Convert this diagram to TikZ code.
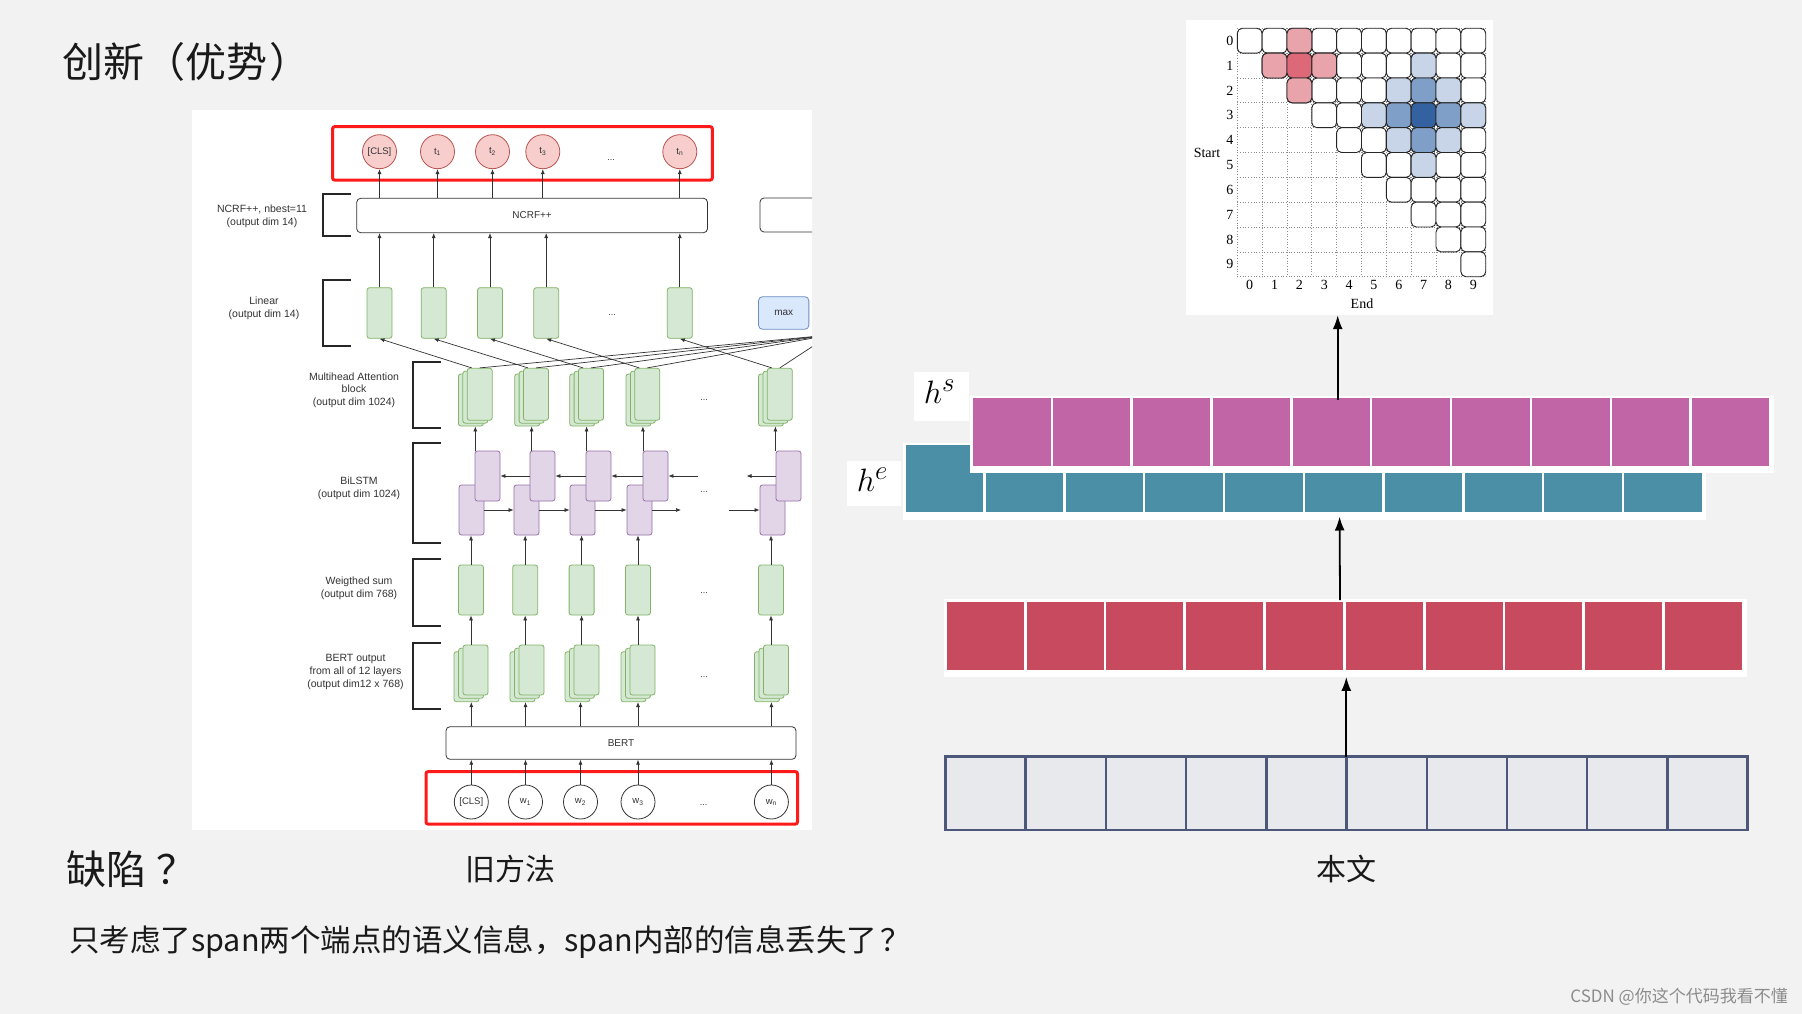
\documentclass[tikz,border=0pt]{standalone}
\usepackage{fontspec}
\setmainfont{Liberation Sans}
\newfontfamily\cjk{Noto Sans CJK SC}
\newfontfamily\serif{Liberation Serif}
\usetikzlibrary{arrows.meta}
\definecolor{bg}{HTML}{F2F2F2}
\definecolor{txt}{HTML}{333333}
\definecolor{gfill}{HTML}{D5E8D4}
\definecolor{gline}{HTML}{82B366}
\definecolor{pfill}{HTML}{E1D5E7}
\definecolor{pline}{HTML}{9673A6}
\definecolor{rfill}{HTML}{F8CECC}
\definecolor{rline}{HTML}{B85450}
\definecolor{bfill}{HTML}{DAE8FC}
\definecolor{bline}{HTML}{6C8EBF}
\definecolor{redframe}{HTML}{FF1A1A}
\definecolor{hsfill}{HTML}{C165A6}
\definecolor{hefill}{HTML}{4A8FA5}
\definecolor{encfill}{HTML}{C84A5E}
\definecolor{infill}{HTML}{E8E9EC}
\definecolor{inline}{HTML}{4D5779}
\definecolor{lr}{HTML}{E8A3AB}
\definecolor{mr}{HTML}{DC6878}
\definecolor{lb}{HTML}{C8D5E8}
\definecolor{mb}{HTML}{809FC8}
\definecolor{db}{HTML}{3462A0}
\tikzset{
  lbl/.style={font=\fontsize{10.5}{12.6}\selectfont, text=txt, align=center, inner sep=0},
  gbox/.style={draw=gline, fill=gfill, rounded corners=2.5pt, minimum width=25pt, minimum height=50pt, inner sep=0, line width=0.8pt},
  pbox/.style={draw=pline, fill=pfill, rounded corners=2.5pt, minimum width=25pt, minimum height=50pt, inner sep=0, line width=0.8pt},
  tokp/.style={circle, draw=rline, fill=rfill, minimum size=34pt, inner sep=0, line width=0.8pt, font=\fontsize{9.5}{11}\selectfont, text=txt},
  tokw/.style={circle, draw=txt, fill=white, minimum size=34pt, inner sep=0, line width=0.8pt, font=\fontsize{9.5}{11}\selectfont, text=txt},
  wbox/.style={draw=txt, fill=white, rounded corners=4pt, inner sep=0, line width=0.8pt, font=\fontsize{10}{12}\selectfont, text=txt},
  arr/.style={-{Latex[length=5pt,width=4pt]}, line width=0.7pt, draw=txt},
  plain/.style={line width=0.7pt, draw=txt},
  brk/.style={line width=1.8pt, draw=black!85},
  redbx/.style={draw=redframe, line width=3pt, rounded corners=2pt},
  ell/.style={font=\fontsize{9}{10}\selectfont, text=txt, inner sep=0},
  cellst/.style={draw=black!85, line width=0.9pt, rounded corners=5pt},
  glab/.style={font=\serif\fontsize{14}{16}\selectfont, inner sep=0},
  bigarr/.style={-{Latex[length=14pt,width=10pt]}, line width=1.8pt, draw=black},
  cjktext/.style={font=\cjk\fontsize{#1}{#1}\selectfont, inner sep=0, text=black!90}
}
\begin{document}
\begin{tikzpicture}[x=1pt,y=-1pt]
\useasboundingbox (0,0) rectangle (1802,1014);
\fill[bg] (0,0) rectangle (1802,1014);

% ---------- titles and texts ----------
\node[cjktext=41, anchor=west] (title) at (62,62) {创新（优势\hspace{2pt}）};
\node[cjktext=40, anchor=west] (defect) at (66,869) {缺陷\hspace{10pt}？};
\node[cjktext=30] (oldm) at (510,869) {旧方法};
\node[cjktext=30] (ours) at (1346,869) {本文};
\node[cjktext=30.5, anchor=west] (sent) at (69,942) {只考虑了span两个端点的语义信息，span内部的信息丢失了\hspace{3pt}？};
\node[font=\cjk\fontsize{17}{17}\selectfont, text=black!45, anchor=east, inner sep=0] (wm) at (1788,997) {CSDN @你这个代码我看不懂};

% ---------- left diagram ----------
\fill[white] (192,110) rectangle (812,830);
\begin{scope}
\clip (192,110) rectangle (812,830);
% red frames
\draw[redbx] (332.6,126.7) rectangle (712.3,180);
\draw[redbx] (426,771.7) rectangle (797.5,824);
% top output circles
\foreach \n/\x/\t in {1/379.5/{[CLS]},2/437.5/{t\textsubscript{1}},3/492.5/{t\textsubscript{2}},4/542.8/{t\textsubscript{3}},5/679.8/{t\textsubscript{n}}}
  \node[tokp] (c\n) at (\x,151.7) {\t};
\node[ell] (e1) at (611,160) {...};
% NCRF
\node[wbox, minimum width=350.8pt, minimum height=34.4pt] (ncrf) at (532.1,215.5) {NCRF++};
\node[wbox, minimum width=80pt, minimum height=34pt] (ncrf2) at (800,215) {};
% Linear
\foreach \n/\x in {1/379.5,2/433.7,3/490,4/546.2,5/679.8}
  \node[gbox, minimum height=50.6pt] (lin\n) at (\x,313) {};
\node[ell] (e2) at (612,315) {...};
\node[draw=bline, fill=bfill, rounded corners=4pt, minimum width=50.3pt, minimum height=32.6pt, inner sep=0, line width=0.8pt, font=\fontsize{10}{12}\selectfont, text=txt] (mx) at (783.7,313) {max};
\foreach \n in {1,...,5}{
  \draw[arr] (lin\n.north) -- (lin\n.north |- ncrf.south);
  \draw[arr] (c\n.south |- ncrf.north) -- (c\n.south);
}
% Multihead attention
\foreach \n/\bl in {1/458.4,2/514.7,3/569.7,4/626,5/758.5}{
  \node[gbox, minimum height=52pt] (mhb\n) at (\bl+12.5,400) {};
  \node[gbox, minimum height=52pt] (mhm\n) at (\bl+16.9,397.2) {};
  \node[gbox, minimum height=52pt] (mhf\n) at (\bl+21.3,394.3) {};
}
\node[ell] (e3) at (704,400) {...};
\coordinate (maxpt) at (830,335);
\foreach \n in {1,...,5}{
  \draw[arr] ([xshift=-8pt]mhf\n.north) -- (lin\n.south);
  \draw[plain] (mhf\n.north) -- (maxpt);
}
% BiLSTM
\foreach \n/\x in {1/471.5,2/526.5,3/582.5,4/639.5,5/772.5}{
  \node[pbox] (lo\n) at (\x,510) {};
  \node[pbox] (up\n) at (\x+16,476) {};
}
\node[ell] (e4) at (704,492) {...};
\foreach \a/\b in {1/2,2/3,3/4}{
  \draw[arr] (up\b.west) -- (up\a.east);
  \draw[arr] (lo\a.east) -- (lo\b.west);
}
\coordinate (bk4) at (698,476);
\coordinate (bk5) at (746.5,476);
\coordinate (fw4) at (681,510);
\coordinate (fw5) at (729,510);
\draw[arr] (bk4) -- (up4.east);
\draw[arr] (up5.west) -- (bk5);
\draw[arr] (lo4.east) -- (fw4);
\draw[arr] (fw5) -- (lo5.west);
\foreach \n in {1,...,5}
  \draw[arr] (mhm\n |- up\n.north) -- (mhm\n |- mhb\n.south);
% Weighted sum
\foreach \n/\x in {1/471,2/525.2,3/581.6,4/638,5/771}
  \node[gbox] (ws\n) at (\x,590) {};
\node[ell] (e5) at (704,593) {...};
\foreach \n in {1,...,5}
  \draw[arr] (ws\n.north) -- (ws\n.north |- lo\n.south);
% BERT output
\foreach \n/\bl in {1/454,2/510,3/565,4/621,5/754.5}{
  \node[gbox] (bob\n) at (\bl+12.5,676.7) {};
  \node[gbox] (bom\n) at (\bl+17,673.3) {};
  \node[gbox] (bof\n) at (\bl+21.5,670) {};
}
\node[ell] (e6) at (704,677) {...};
\foreach \n in {1,...,5}
  \draw[arr] (ws\n |- bof\n.north) -- (ws\n.south);
% BERT
\node[wbox, minimum width=350pt, minimum height=32.6pt] (bert) at (621,743) {BERT};
% input circles
\foreach \n/\x/\t in {1/471.3/{[CLS]},2/525.5/{w\textsubscript{1}},3/580.5/{w\textsubscript{2}},4/638/{w\textsubscript{3}},5/771.4/{w\textsubscript{n}}}
  \node[tokw] (w\n) at (\x,802) {\t};
\node[ell] (e7) at (703.5,805) {...};
\foreach \n in {1,...,5}{
  \draw[arr] (w\n |- bert.north) -- (w\n |- bob\n.south);
  \draw[arr] (w\n.north) -- (w\n |- bert.south);
}
% brackets
\draw[brk] (350.7,194) -- (322.6,194) -- (322.6,235.7) -- (350.7,235.7);
\draw[brk] (350.7,280) -- (322.6,280) -- (322.6,346) -- (350.7,346);
\draw[brk] (441,362) -- (413,362) -- (413,428) -- (441,428);
\draw[brk] (441,442.7) -- (413,442.7) -- (413,542.7) -- (441,542.7);
\draw[brk] (441,559) -- (413,559) -- (413,626) -- (441,626);
\draw[brk] (441,642.7) -- (413,642.7) -- (413,709) -- (441,709);
% labels
\node[lbl] (l1) at (262,216) {NCRF++, nbest=11\\(output dim 14)};
\node[lbl] (l2) at (264,308.5) {Linear\\(output dim 14)};
\node[lbl] (l3) at (354,390) {Multihead Attention\\block\\(output dim 1024)};
\node[lbl] (l4) at (359,488.5) {BiLSTM\\(output dim 1024)};
\node[lbl] (l5) at (359,588.5) {Weigthed sum\\(output dim 768)};
\node[lbl] (l6) at (355.5,672) {BERT output\\from all of 12 layers\\(output dim12 x 768)};
\end{scope}

% ---------- span grid ----------
\node[fill=white, minimum width=307pt, minimum height=295pt, inner sep=0] (gridbk) at (1339.5,167.5) {};
\def\gx{1237.3}
\def\gy{28.3}
\def\gs{24.84}
\foreach \k in {0,...,10}{
  \draw[black!45, dotted, line width=0.7pt] (\gx+\k*\gs,\gy) -- (\gx+\k*\gs,\gy+10*\gs);
  \draw[black!45, dotted, line width=0.7pt] (\gx,\gy+\k*\gs) -- (\gx+10*\gs,\gy+\k*\gs);
}
\foreach \i in {0,...,9}
  \foreach \j in {\i,...,9}
    \draw[cellst, fill=white] (\gx+\j*\gs,\gy+\i*\gs) rectangle ++(\gs,\gs);
\foreach \i/\j/\c in {0/2/lr,1/1/lr,1/2/mr,1/3/lr,2/2/lr,1/7/lb,2/6/lb,2/7/mb,2/8/lb,3/5/lb,3/6/mb,3/7/db,3/8/mb,3/9/lb,4/6/lb,4/7/mb,4/8/lb,5/7/lb}
  \draw[cellst, fill=\c] (\gx+\j*\gs,\gy+\i*\gs) rectangle ++(\gs,\gs);
\foreach \i in {0,...,9}{
  \node[glab, anchor=east] at (1233.5,\gy+\i*\gs+\gs/2) {\i};
  \node[glab] at (\gx+\i*\gs+\gs/2,285) {\i};
}
\node[glab] (startlab) at (1207,153) {Start};
\node[glab] (endlab) at (1362,303.5) {End};

% ---------- span representation rows ----------
\node[fill=white, minimum width=803.4pt, minimum height=77.3pt, inner sep=0] (tealbk) at (1304.3,481.35) {};
\foreach \i in {0,...,9}
  \fill[hefill] (906+\i*79.8,445) rectangle ++(77.3,67.3);
\node[fill=white, minimum width=804pt, minimum height=77pt, inner sep=0] (hsbk) at (1372,434.5) {};
\foreach \i in {0,...,9}
  \fill[hsfill] (973.2+\i*79.85,398.3) rectangle ++(77.4,67.7);
\node[fill=white, minimum width=54.6pt, minimum height=49pt, inner sep=0] (hslab) at (941.3,396.2) {};
\node[font=\Huge, scale=1.3, inner sep=0] (hstxt) at (939.5,392) {$h^s$};
\node[fill=white, minimum width=54pt, minimum height=45.3pt, inner sep=0] (helab) at (874,483.4) {};
\node[font=\Huge, scale=1.3, inner sep=0] (hetxt) at (872.5,480) {$h^e$};

% encoder row
\node[fill=white, minimum width=803.1pt, minimum height=77.7pt, inner sep=0] (redbk) at (1345.45,637.85) {};
\foreach \i in {0,...,9}
  \fill[encfill] (946.7+\i*79.8,601.7) rectangle ++(77,68.3);

% input row
\draw[inline, line width=2.5pt, fill=infill] (945.5,756.7) rectangle (1747.6,830);
\foreach \k in {1,...,9}
  \draw[inline, line width=2.5pt] (945.5+\k*80.21,756.7) -- (945.5+\k*80.21,830);

% arrows
\coordinate (ia) at (1346.3,757);
\coordinate (ra) at (1340,600);
\coordinate (ha) at (1337.7,400);
\draw[bigarr] (ia) -- (ia |- redbk.south);
\draw[bigarr] (ra) -- (1339.6,516.5);
\draw[bigarr] (ha) -- (ha |- gridbk.south);
\end{tikzpicture}
\end{document}
